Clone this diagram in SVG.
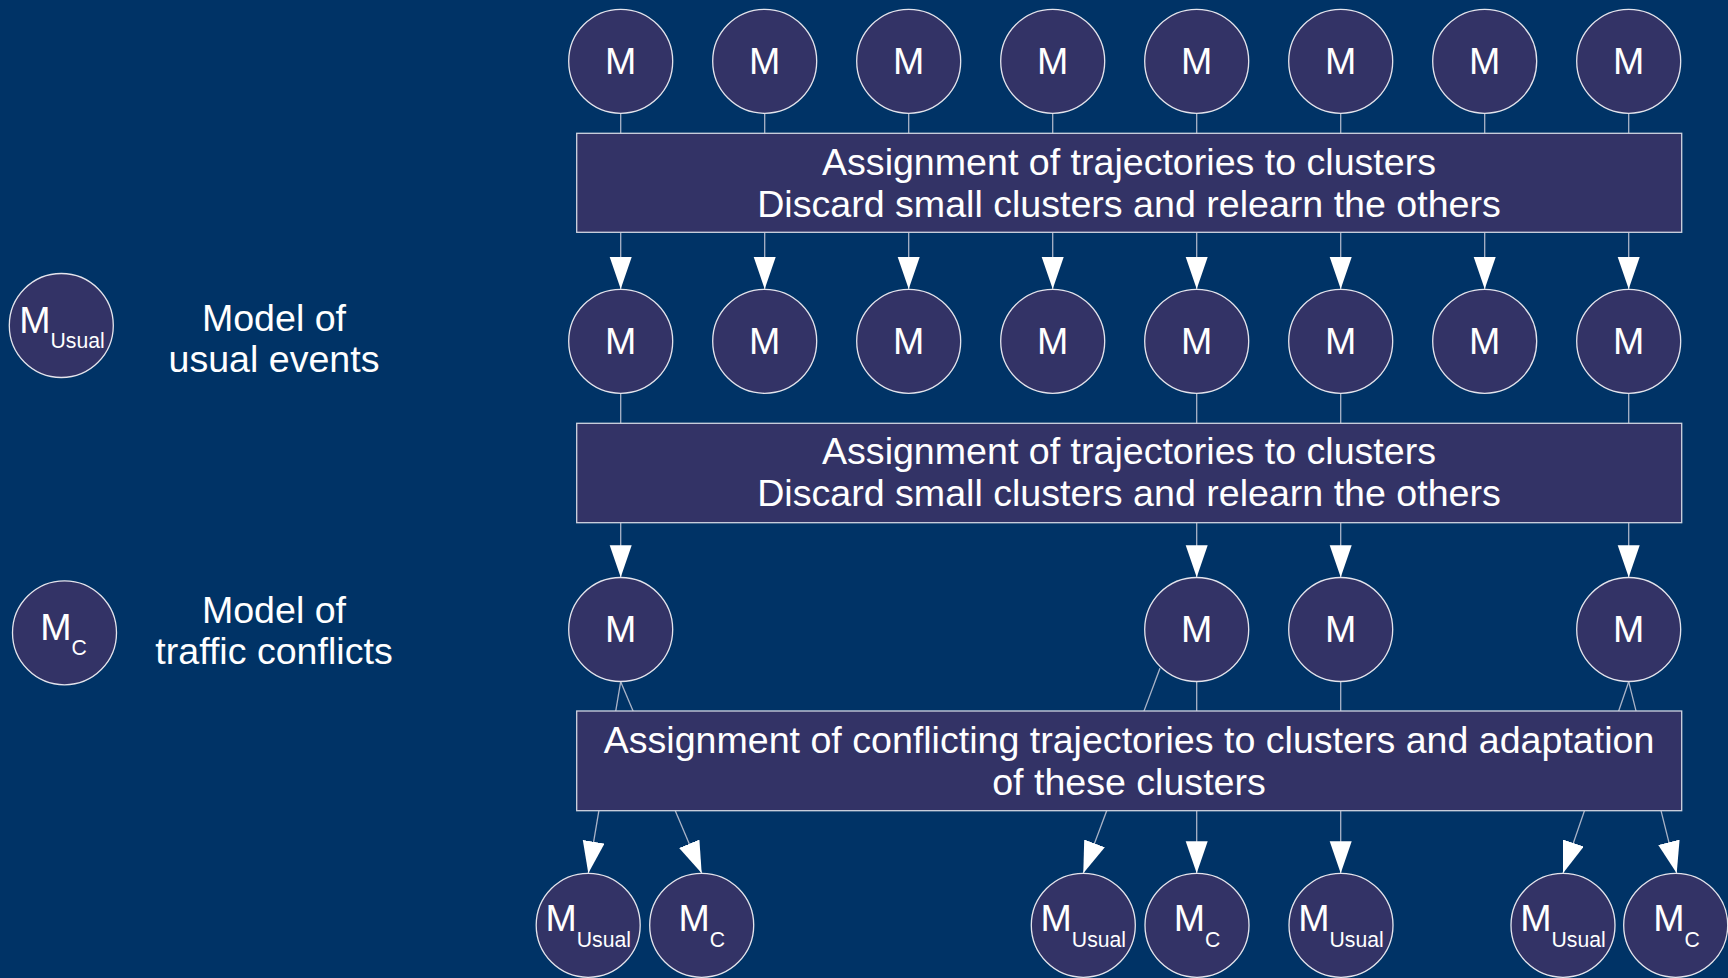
<svg xmlns="http://www.w3.org/2000/svg" width="1728" height="978" viewBox="0 0 1728 978">
<style>
.bg{fill:#003366}
.node{fill:#333366;stroke:#e4e4ec;stroke-width:1.3}
.box{fill:#333366;stroke:#d0d4e0;stroke-width:1.3}
.conn{stroke:#aab4c8;stroke-width:1.3;fill:none}
text{font-family:"Liberation Sans",Arial,sans-serif;fill:#ffffff}
.m{font-size:37.6px;text-anchor:middle}
.sub{font-size:21.2px}
.bt{font-size:37.6px;text-anchor:middle}
.lg{font-size:37.6px;text-anchor:middle}
</style>
<defs>
<marker id="ah" markerUnits="userSpaceOnUse" markerWidth="33" markerHeight="23" refX="32" refY="11" orient="auto" viewBox="0 0 33 23">
<path d="M0,0 L32,11 L0,22 z" fill="#ffffff"/>
</marker>
</defs>
<rect class="bg" x="0" y="0" width="1728" height="978"/>

<g id="connectors">
<line class="conn" x1="620.7" y1="113.3" x2="620.7" y2="289" marker-end="url(#ah)"/>
<line class="conn" x1="764.7" y1="113.3" x2="764.7" y2="289" marker-end="url(#ah)"/>
<line class="conn" x1="908.7" y1="113.3" x2="908.7" y2="289" marker-end="url(#ah)"/>
<line class="conn" x1="1052.7" y1="113.3" x2="1052.7" y2="289" marker-end="url(#ah)"/>
<line class="conn" x1="1196.7" y1="113.3" x2="1196.7" y2="289" marker-end="url(#ah)"/>
<line class="conn" x1="1340.7" y1="113.3" x2="1340.7" y2="289" marker-end="url(#ah)"/>
<line class="conn" x1="1484.7" y1="113.3" x2="1484.7" y2="289" marker-end="url(#ah)"/>
<line class="conn" x1="1628.7" y1="113.3" x2="1628.7" y2="289" marker-end="url(#ah)"/>

<line class="conn" x1="620.7" y1="393.3" x2="620.7" y2="577.3" marker-end="url(#ah)"/>
<line class="conn" x1="1196.7" y1="393.3" x2="1196.7" y2="577.3" marker-end="url(#ah)"/>
<line class="conn" x1="1340.7" y1="393.3" x2="1340.7" y2="577.3" marker-end="url(#ah)"/>
<line class="conn" x1="1628.7" y1="393.3" x2="1628.7" y2="577.3" marker-end="url(#ah)"/>

<line class="conn" x1="620.7" y1="681.7" x2="588.3" y2="873.3" marker-end="url(#ah)"/>
<line class="conn" x1="620.7" y1="681.7" x2="701.7" y2="873.3" marker-end="url(#ah)"/>
<line class="conn" x1="1160" y1="668.3" x2="1083.3" y2="873.3" marker-end="url(#ah)"/>
<line class="conn" x1="1196.7" y1="681.7" x2="1196.7" y2="873.3" marker-end="url(#ah)"/>
<line class="conn" x1="1340.7" y1="681.7" x2="1340.7" y2="873.3" marker-end="url(#ah)"/>
<line class="conn" x1="1628.7" y1="681.7" x2="1563" y2="873.3" marker-end="url(#ah)"/>
<line class="conn" x1="1628.7" y1="681.7" x2="1676.7" y2="873.3" marker-end="url(#ah)"/>
</g>

<g id="box1"><rect class="box" x="576.7" y="133.3" width="1105" height="99"/>
<text class="bt" x="1129" y="175">Assignment of trajectories to clusters</text>
<text class="bt" x="1129" y="217.3">Discard small clusters and relearn the others</text></g>
<g id="box2"><rect class="box" x="576.7" y="423.3" width="1105" height="99.4"/>
<text class="bt" x="1129" y="464">Assignment of trajectories to clusters</text>
<text class="bt" x="1129" y="506.3">Discard small clusters and relearn the others</text></g>
<g id="box3"><rect class="box" x="576.7" y="711" width="1105" height="99.7"/>
<text class="bt" x="1129" y="752.7">Assignment of conflicting trajectories to clusters and adaptation</text>
<text class="bt" x="1129" y="795">of these clusters</text></g>

<g id="r1n1"><circle class="node" cx="620.7" cy="61.3" r="52"/><text class="m" x="620.7" y="74">M</text></g>
<g id="r1n2"><circle class="node" cx="764.7" cy="61.3" r="52"/><text class="m" x="764.7" y="74">M</text></g>
<g id="r1n3"><circle class="node" cx="908.7" cy="61.3" r="52"/><text class="m" x="908.7" y="74">M</text></g>
<g id="r1n4"><circle class="node" cx="1052.7" cy="61.3" r="52"/><text class="m" x="1052.7" y="74">M</text></g>
<g id="r1n5"><circle class="node" cx="1196.7" cy="61.3" r="52"/><text class="m" x="1196.7" y="74">M</text></g>
<g id="r1n6"><circle class="node" cx="1340.7" cy="61.3" r="52"/><text class="m" x="1340.7" y="74">M</text></g>
<g id="r1n7"><circle class="node" cx="1484.7" cy="61.3" r="52"/><text class="m" x="1484.7" y="74">M</text></g>
<g id="r1n8"><circle class="node" cx="1628.7" cy="61.3" r="52"/><text class="m" x="1628.7" y="74">M</text></g>

<g id="r2n1"><circle class="node" cx="620.7" cy="341.3" r="52"/><text class="m" x="620.7" y="354">M</text></g>
<g id="r2n2"><circle class="node" cx="764.7" cy="341.3" r="52"/><text class="m" x="764.7" y="354">M</text></g>
<g id="r2n3"><circle class="node" cx="908.7" cy="341.3" r="52"/><text class="m" x="908.7" y="354">M</text></g>
<g id="r2n4"><circle class="node" cx="1052.7" cy="341.3" r="52"/><text class="m" x="1052.7" y="354">M</text></g>
<g id="r2n5"><circle class="node" cx="1196.7" cy="341.3" r="52"/><text class="m" x="1196.7" y="354">M</text></g>
<g id="r2n6"><circle class="node" cx="1340.7" cy="341.3" r="52"/><text class="m" x="1340.7" y="354">M</text></g>
<g id="r2n7"><circle class="node" cx="1484.7" cy="341.3" r="52"/><text class="m" x="1484.7" y="354">M</text></g>
<g id="r2n8"><circle class="node" cx="1628.7" cy="341.3" r="52"/><text class="m" x="1628.7" y="354">M</text></g>

<g id="r3n1"><circle class="node" cx="620.7" cy="629.5" r="52"/><text class="m" x="620.7" y="642.2">M</text></g>
<g id="r3n5"><circle class="node" cx="1196.7" cy="629.5" r="52"/><text class="m" x="1196.7" y="642.2">M</text></g>
<g id="r3n6"><circle class="node" cx="1340.7" cy="629.5" r="52"/><text class="m" x="1340.7" y="642.2">M</text></g>
<g id="r3n8"><circle class="node" cx="1628.7" cy="629.5" r="52"/><text class="m" x="1628.7" y="642.2">M</text></g>

<g id="r4n1"><circle class="node" cx="588.2" cy="925.3" r="52"/><text class="m" x="588.2" y="931">M<tspan class="sub" dy="16.3">Usual</tspan></text></g>
<g id="r4n2"><circle class="node" cx="701.7" cy="925.3" r="52"/><text class="m" x="701.7" y="931">M<tspan class="sub" dy="16.3">C</tspan></text></g>
<g id="r4n3"><circle class="node" cx="1083.3" cy="925.3" r="52"/><text class="m" x="1083.3" y="931">M<tspan class="sub" dy="16.3">Usual</tspan></text></g>
<g id="r4n4"><circle class="node" cx="1197" cy="925.3" r="52"/><text class="m" x="1197" y="931">M<tspan class="sub" dy="16.3">C</tspan></text></g>
<g id="r4n5"><circle class="node" cx="1341" cy="925.3" r="52"/><text class="m" x="1341" y="931">M<tspan class="sub" dy="16.3">Usual</tspan></text></g>
<g id="r4n6"><circle class="node" cx="1563" cy="925.3" r="52"/><text class="m" x="1563" y="931">M<tspan class="sub" dy="16.3">Usual</tspan></text></g>
<g id="r4n7"><circle class="node" cx="1675.7" cy="925.3" r="52"/><text class="m" x="1676.5" y="931">M<tspan class="sub" dy="16.3">C</tspan></text></g>

<g id="legend-usual"><circle class="node" cx="61.3" cy="325.5" r="52"/><text class="m" x="62" y="332.7">M<tspan class="sub" dy="15">Usual</tspan></text>
<text class="lg" x="274" y="330.7">Model of</text><text class="lg" x="274" y="371.7">usual events</text></g>
<g id="legend-conflict"><circle class="node" cx="64.5" cy="632.8" r="52"/><text class="m" x="63.5" y="640">M<tspan class="sub" dy="14.5">C</tspan></text>
<text class="lg" x="274" y="622.7">Model of</text><text class="lg" x="274" y="663.7">traffic conflicts</text></g>
</svg>
